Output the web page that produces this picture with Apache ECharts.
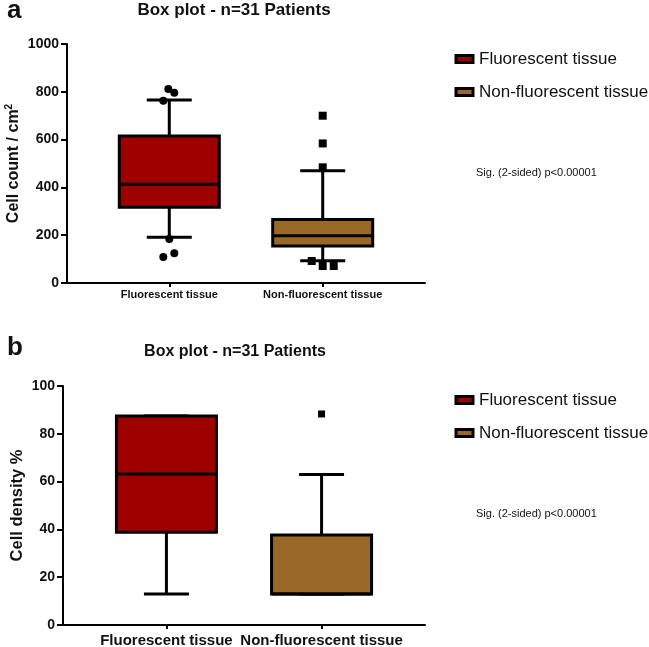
<!DOCTYPE html>
<html>
<head>
<meta charset="utf-8">
<script src="https://cdn.jsdelivr.net/npm/echarts@6/dist/echarts.min.js"></script>
<style>
  html, body { margin: 0; padding: 0; background: #fff; }
  #chart { width: 649px; height: 647px; }
</style>
</head>
<body>
<div id="chart"></div>
<script>
// categories and tick labels
var categories = ['Fluorescent tissue', 'Non-fluorescent tissue'];
var countTicks = [0, 200, 400, 600, 800, 1000];
var densityTicks = [0, 20, 40, 60, 80, 100];

// panel a: cell count / cm2  [low, Q1, median, Q3, high]
var countFluor = [191, 317, 413, 615, 766];
var countNonFluor = [93, 155, 198, 266, 470];
var countFluorOut = [763, 812, 796, 184, 109, 125];
var countNonFluorOut = [700, 584, 484, 92, 71, 71];

// panel b: cell density %
var densityFluor = [13, 38.8, 63.2, 87.4, 87.4];
var densityNonFluor = [13, 13, 13, 37.7, 63];
var densityNonFluorOut = [88.3];

// horizontal spread of the outlier dots (px), styling only
var jitterFluorA = [-6, -1, 5, 0, -6, 5];
var jitterNonA = [0, 0, 0, -11, 0, 11];

var FONT = '"Liberation Sans", Arial, sans-serif';
var RED = '#9e0000';
var BROWN = '#9a6826';

var myChart = echarts.init(document.getElementById('chart'));

function catX(i) { return 2 + 3 * i; }

function renderBox(params, api) {
    var x = api.value(0);
    var low = api.coord([x, api.value(1)]);
    var q1 = api.coord([x, api.value(2)]);
    var med = api.coord([x, api.value(3)]);
    var q3 = api.coord([x, api.value(4)]);
    var high = api.coord([x, api.value(5)]);
    var half = 50, cap = 22.5;
    var ln = { stroke: '#000', lineWidth: 3 };
    return {
        type: 'group',
        children: [
            { type: 'line', shape: { x1: low[0], y1: low[1], x2: q1[0], y2: q1[1] }, style: ln },
            { type: 'line', shape: { x1: q3[0], y1: q3[1], x2: high[0], y2: high[1] }, style: ln },
            { type: 'line', shape: { x1: low[0] - cap, y1: low[1], x2: low[0] + cap, y2: low[1] }, style: ln },
            { type: 'line', shape: { x1: high[0] - cap, y1: high[1], x2: high[0] + cap, y2: high[1] }, style: ln },
            { type: 'rect', shape: { x: q3[0] - half, y: q3[1], width: half * 2, height: q1[1] - q3[1] },
              style: { fill: api.visual('color'), stroke: '#000', lineWidth: 3 } },
            { type: 'line', shape: { x1: med[0] - half, y1: med[1], x2: med[0] + half, y2: med[1] }, style: ln }
        ]
    };
}

function boxSeries(name, idx, stats, color, g) {
    return {
        name: name,
        type: 'custom',
        xAxisIndex: g, yAxisIndex: g,
        itemStyle: { color: color },
        renderItem: renderBox,
        encode: { x: 0, y: [1, 2, 3, 4, 5] },
        data: [[catX(idx)].concat(stats)],
        z: 2
    };
}

function outlierSeries(idx, values, jitter, symbol, size, g) {
    return {
        type: 'scatter',
        xAxisIndex: g, yAxisIndex: g,
        symbol: symbol,
        symbolSize: size,
        itemStyle: { color: '#000', opacity: 1 },
        silent: true,
        z: 5,
        data: values.map(function (v, k) {
            return { value: [catX(idx), v], symbolOffset: [jitter ? jitter[k] : 0, 0] };
        })
    };
}

function xAxisFor(g, fontSize, margin) {
    return {
        type: 'value', gridIndex: g, min: 0, max: 7,
        axisLine: { lineStyle: { color: '#000', width: 2 } },
        axisTick: { show: true, customValues: [catX(0), catX(1)], length: 4, lineStyle: { color: '#000', width: 2 } },
        axisLabel: {
            customValues: [catX(0), catX(1)],
            formatter: function (v) { return categories[Math.round((v - 2) / 3)]; },
            color: '#111', fontFamily: FONT, fontWeight: 'bold', fontSize: fontSize, margin: margin
        },
        splitLine: { show: false }
    };
}

function yAxisFor(g, ticks, name, rich) {
    return {
        type: 'value', gridIndex: g,
        min: ticks[0], max: ticks[ticks.length - 1], interval: ticks[1] - ticks[0],
        name: name, nameLocation: 'middle', nameRotate: 90, nameGap: g === 0 ? 44 : 37,
        nameMoveOverlap: false,
        nameTextStyle: { color: '#111', fontFamily: FONT, fontWeight: 'bold', fontSize: g === 0 ? 16 : 16.5, rich: rich },
        axisLine: { show: true, lineStyle: { color: '#000', width: 2 } },
        axisTick: { show: true, length: 6, lineStyle: { color: '#000', width: 2 } },
        axisLabel: {
            color: '#111', fontFamily: FONT, fontWeight: 'bold', fontSize: 14, margin: 8,
            formatter: function (v) { return String(v); }
        },
        splitLine: { show: false }
    };
}

function legendFor(top) {
    return {
        orient: 'vertical', left: 449.5, top: top,
        data: categories,
        icon: 'rect', itemWidth: 17, itemHeight: 7, itemGap: 13,
        itemStyle: { borderColor: '#000', borderWidth: 3 },
        textStyle: { color: '#111', fontFamily: FONT, fontSize: 17, lineHeight: 20, padding: [0, 0, 0, 1] },
        selectedMode: false
    };
}

function label(text, x, y, size, weight, align) {
    return {
        type: 'text', x: x, y: y,
        style: { text: text, fill: '#111', font: weight + ' ' + size + 'px ' + FONT, textAlign: align, textVerticalAlign: 'middle' }
    };
}

var option = {
    animation: false,
    backgroundColor: '#fff',
    grid: [
        { left: 67, top: 44, width: 358, height: 239, containLabel: false, outerBoundsMode: 'none' },
        { left: 63, top: 386, width: 362, height: 239, containLabel: false, outerBoundsMode: 'none' }
    ],
    xAxis: [xAxisFor(0, 11, 6), xAxisFor(1, 15, 8)],
    yAxis: [
        yAxisFor(0, countTicks, 'Cell count / cm{sup|2}', { sup: { fontSize: 10, fontWeight: 'bold', fontFamily: FONT, color: '#111', verticalAlign: 'bottom', padding: [0, 0, 9, 0] } }),
        yAxisFor(1, densityTicks, 'Cell density %')
    ],
    legend: [legendFor(44), legendFor(385)],
    graphic: [
        label('a', 7, 11, 26, 'bold', 'left'),
        label('b', 7, 348, 26, 'bold', 'left'),
        label('Box plot - n=31 Patients', 234, 10, 17, 'bold', 'center'),
        label('Box plot - n=31 Patients', 235, 352, 16, 'bold', 'center'),
        label('Sig. (2-sided) p<0.00001', 476, 173, 11, 'normal', 'left'),
        label('Sig. (2-sided) p<0.00001', 476, 514, 11, 'normal', 'left')
    ],
    series: [
        boxSeries(categories[0], 0, countFluor, RED, 0),
        boxSeries(categories[1], 1, countNonFluor, BROWN, 0),
        outlierSeries(0, countFluorOut, jitterFluorA, 'circle', 8, 0),
        outlierSeries(1, countNonFluorOut, jitterNonA, 'rect', 8, 0),
        boxSeries(categories[0], 0, densityFluor, RED, 1),
        boxSeries(categories[1], 1, densityNonFluor, BROWN, 1),
        outlierSeries(1, densityNonFluorOut, null, 'rect', 7, 1)
    ]
};

option && myChart.setOption(option);
</script>
</body>
</html>
